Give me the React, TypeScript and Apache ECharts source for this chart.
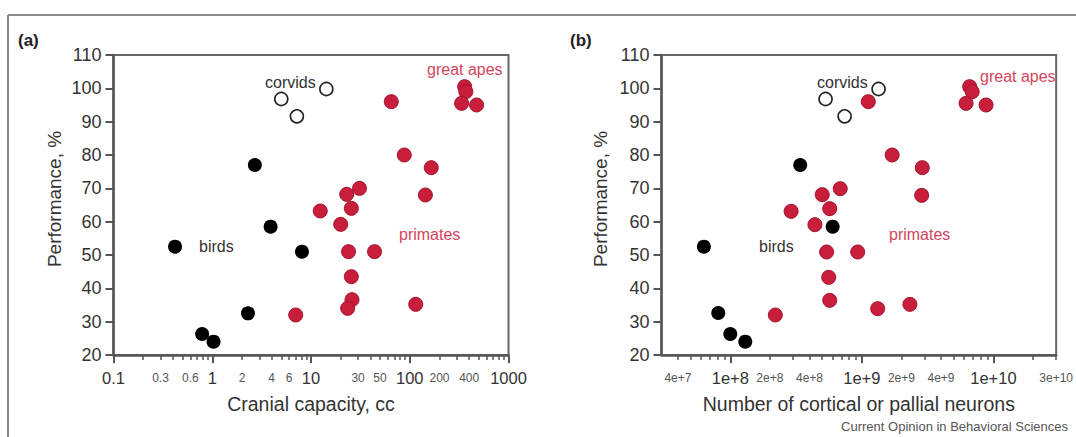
import React, { useEffect, useRef } from "react";
import * as echarts from "echarts";

// ---------- Panel (a): cranial capacity (cc) vs performance (%) ----------
const A_BIRD_CC = [2.7, 3.9, 0.42, 8.1, 2.3, 0.79, 1.03];
const A_BIRD_PERF = [77, 58.5, 52.5, 51, 32.5, 26.3, 24];
const A_CORVID_CC = [5.0, 7.2, 14.3];
const A_CORVID_PERF = [96.8, 91.6, 99.8];
const A_PRIMATE_CC = [65, 360, 370, 335, 475, 88, 165, 144, 31, 23, 12.4, 25.6, 20, 24, 44, 25.6, 26, 23.5, 7, 115];
const A_PRIMATE_PERF = [96, 100.5, 99, 95.5, 95, 80, 76.2, 68, 70, 68.2, 63.2, 64, 59.2, 51, 51, 43.5, 36.6, 34, 32, 35.2];

// ---------- Panel (b): number of cortical / pallial neurons vs performance (%) ----------
const B_BIRD_NEURONS = [3.4e8, 6.0e8, 6.3e7, 8.1e7, 1.0e8, 1.3e8];
const B_BIRD_PERF = [77, 58.5, 52.5, 32.6, 26.3, 24];
const B_CORVID_NEURONS = [5.3e8, 7.4e8, 1.34e9];
const B_CORVID_PERF = [96.8, 91.6, 99.8];
const B_PRIMATE_NEURONS = [1.12e9, 6.6e9, 6.9e9, 6.2e9, 8.8e9, 1.7e9, 2.88e9, 2.85e9, 6.85e8, 5.0e8, 2.9e8, 5.7e8, 4.4e8, 5.4e8, 9.3e8, 5.6e8, 5.7e8, 1.32e9, 2.2e8, 2.32e9];
const B_PRIMATE_PERF = [96, 100.5, 99, 95.5, 95, 80, 76.2, 67.9, 69.9, 68.1, 63.1, 63.9, 59.1, 50.9, 50.9, 43.3, 36.4, 33.9, 32, 35.2];

// ---------- Axis ticks / labels ----------
const Y_MIN = 20;
const Y_MAX = 110;
const Y_STEP = 10;

const A_X_MIN = 0.1;
const A_X_MAX = 1000;
const A_MAJOR_VALUES = [0.1, 1, 10, 100, 1000];
const A_MAJOR_LABELS = ["0.1", "1", "10", "100", "1000"];
const A_MINOR_TICKS = [
  0.2, 0.3, 0.4, 0.5, 0.6, 0.7, 0.8, 0.9,
  2, 3, 4, 5, 6, 7, 8, 9,
  20, 30, 40, 50, 60, 70, 80, 90,
  200, 300, 400, 500, 600, 700, 800, 900,
];
const A_MINOR_VALUES = [0.3, 0.6, 2, 4, 6, 30, 50, 200, 400];
const A_MINOR_LABELS = ["0.3", "0.6", "2", "4", "6", "30", "50", "200", "400"];

const B_X_MIN = 3e7;
const B_X_MAX = 3e10;
const B_MAJOR_VALUES = [1e8, 1e9, 1e10];
const B_MAJOR_LABELS = ["1e+8", "1e+9", "1e+10"];
const B_MINOR_TICKS = [
  4e7, 5e7, 6e7, 7e7, 8e7, 9e7,
  2e8, 3e8, 4e8, 5e8, 6e8, 7e8, 8e8, 9e8,
  2e9, 3e9, 4e9, 5e9, 6e9, 7e9, 8e9, 9e9,
  2e10, 3e10,
];
const B_MINOR_VALUES = [4e7, 2e8, 4e8, 2e9, 4e9, 3e10];
const B_MINOR_LABELS = ["4e+7", "2e+8", "4e+8", "2e+9", "4e+9", "3e+10"];

const FONT = "'Liberation Sans', Arial, Helvetica, sans-serif";
const AXIS_COLOR = "#555";
const TEXT_COLOR = "#333";
const RED = "#c81e3c";
const RED_TEXT = "#d4445c";

const zip = (xs: number[], ys: number[]) => xs.map((x, i) => [x, ys[i]]);

const fmt = (values: number[], labels: string[]) => (v: number) => {
  const i = values.findIndex((t) => Math.abs(t - v) <= Math.abs(t) * 1e-6);
  return i >= 0 ? labels[i] : "";
};

function xAxes(
  gridIndex: number,
  min: number,
  max: number,
  majorV: number[],
  majorL: string[],
  minorTicks: number[],
  minorV: number[],
  minorL: string[],
  name: string
) {
  return [
    {
      type: "log",
      logBase: 10,
      gridIndex,
      min,
      max,
      position: "bottom",
      name,
      nameLocation: "middle",
      nameGap: 39,
      nameTextStyle: { fontSize: 19.5, color: TEXT_COLOR, fontFamily: FONT },
      axisLine: { show: true, onZero: false, lineStyle: { color: AXIS_COLOR, width: 2.5 } },
      axisTick: {
        show: true,
        inside: false,
        length: 8,
        customValues: majorV,
        lineStyle: { color: AXIS_COLOR, width: 2 },
      },
      axisLabel: {
        show: true,
        customValues: majorV,
        formatter: fmt(majorV, majorL),
        fontSize: 16.5,
        color: TEXT_COLOR,
        margin: 14,
        fontFamily: FONT,
      },
      splitLine: { show: false },
      minorTick: { show: false },
      minorSplitLine: { show: false },
    },
    {
      type: "log",
      logBase: 10,
      gridIndex,
      min,
      max,
      position: "bottom",
      axisLine: { show: false, onZero: false },
      axisTick: {
        show: true,
        inside: false,
        length: 5,
        customValues: minorTicks,
        lineStyle: { color: AXIS_COLOR, width: 1.5 },
      },
      axisLabel: {
        show: true,
        customValues: minorV,
        formatter: fmt(minorV, minorL),
        fontSize: 12,
        color: "#555",
        margin: 17,
        fontFamily: FONT,
      },
      splitLine: { show: false },
      minorTick: { show: false },
      minorSplitLine: { show: false },
    },
  ];
}

function yAxis(gridIndex: number, nameGap: number) {
  return {
    type: "value",
    gridIndex,
    min: Y_MIN,
    max: Y_MAX,
    interval: Y_STEP,
    name: "Performance, %",
    nameLocation: "middle",
    nameGap,
    nameTextStyle: { fontSize: 19, color: TEXT_COLOR, fontFamily: FONT, padding: [0, 0, 0, 12] },
    axisLine: { show: true, onZero: false, lineStyle: { color: AXIS_COLOR, width: 2.5 } },
    axisTick: { show: true, length: 8, lineStyle: { color: AXIS_COLOR, width: 2 } },
    axisLabel: { fontSize: 18, color: TEXT_COLOR, margin: 12, fontFamily: FONT },
    splitLine: { show: false },
  };
}

function scatterSeries(xAxisIndex: number, yAxisIndex: number, birds: number[][], corvids: number[][], primates: number[][]) {
  return [
    {
      type: "scatter",
      name: "primates",
      xAxisIndex,
      yAxisIndex,
      data: primates,
      symbol: "circle",
      symbolSize: 14,
      itemStyle: { color: RED, borderColor: "#a3132d", borderWidth: 1, opacity: 1 },
      z: 3,
    },
    {
      type: "scatter",
      name: "birds",
      xAxisIndex,
      yAxisIndex,
      data: birds,
      symbol: "circle",
      symbolSize: 14,
      itemStyle: { color: "#000", opacity: 1 },
      z: 4,
    },
    {
      type: "scatter",
      name: "corvids",
      xAxisIndex,
      yAxisIndex,
      data: corvids,
      symbol: "circle",
      symbolSize: 13,
      itemStyle: { color: "#fff", borderColor: "#222", borderWidth: 1.6, opacity: 1 },
      z: 4,
    },
  ];
}

function label(text: string, x: number, y: number, fill: string, fontSize = 16, bold = false, align = "left") {
  return {
    type: "text",
    x,
    y,
    z: 10,
    style: {
      text,
      fill,
      font: `${bold ? "bold " : ""}${fontSize}px ${FONT}`,
      textAlign: align,
      textVerticalAlign: "middle",
    },
  };
}

export default function App() {
  const ref = useRef<HTMLDivElement>(null);

  useEffect(() => {
    document.body.style.margin = "0";
    if (!ref.current) return;
    const chart = echarts.init(ref.current, undefined, { renderer: "svg" });

    const option = {
      animation: false,
      backgroundColor: "#fff",
      textStyle: { fontFamily: FONT },
      grid: [
        { left: 113.5, top: 55, width: 395, height: 300, show: true, borderColor: "#666", borderWidth: 2, backgroundColor: "transparent" },
        { left: 661.5, top: 55, width: 395, height: 300, show: true, borderColor: "#666", borderWidth: 2, backgroundColor: "transparent" },
      ],
      xAxis: [
        ...xAxes(0, A_X_MIN, A_X_MAX, A_MAJOR_VALUES, A_MAJOR_LABELS, A_MINOR_TICKS, A_MINOR_VALUES, A_MINOR_LABELS, "Cranial capacity, cc"),
        ...xAxes(1, B_X_MIN, B_X_MAX, B_MAJOR_VALUES, B_MAJOR_LABELS, B_MINOR_TICKS, B_MINOR_VALUES, B_MINOR_LABELS, "Number of cortical or pallial neurons"),
      ],
      yAxis: [yAxis(0, 50), yAxis(1, 52)],
      series: [
        ...scatterSeries(0, 0, zip(A_BIRD_CC, A_BIRD_PERF), zip(A_CORVID_CC, A_CORVID_PERF), zip(A_PRIMATE_CC, A_PRIMATE_PERF)),
        ...scatterSeries(2, 1, zip(B_BIRD_NEURONS, B_BIRD_PERF), zip(B_CORVID_NEURONS, B_CORVID_PERF), zip(B_PRIMATE_NEURONS, B_PRIMATE_PERF)),
      ],
      graphic: [
        { type: "line", shape: { x1: 8, y1: 15, x2: 1076, y2: 15 }, style: { stroke: "#888", lineWidth: 2 } },
        { type: "line", shape: { x1: 8, y1: 15, x2: 8, y2: 437 }, style: { stroke: "#888", lineWidth: 2 } },
        label("(a)", 18, 40, "#222", 17, true),
        label("(b)", 570, 40, "#222", 17, true),
        label("corvids", 265, 82, TEXT_COLOR),
        label("great apes", 427, 69, RED_TEXT),
        label("birds", 199, 246.5, TEXT_COLOR),
        label("primates", 399, 234.5, RED_TEXT),
        label("corvids", 817, 82, TEXT_COLOR),
        label("great apes", 980, 76.5, RED_TEXT),
        label("birds", 759, 246.5, TEXT_COLOR),
        label("primates", 889, 234.5, RED_TEXT),
        label("Current Opinion in Behavioral Sciences", 1068, 426, "#555", 13, false, "right"),
      ],
    };

    chart.setOption(option as any);
    return () => chart.dispose();
  }, []);

  return <div ref={ref} style={{ width: 1076, height: 437 }} />;
}
